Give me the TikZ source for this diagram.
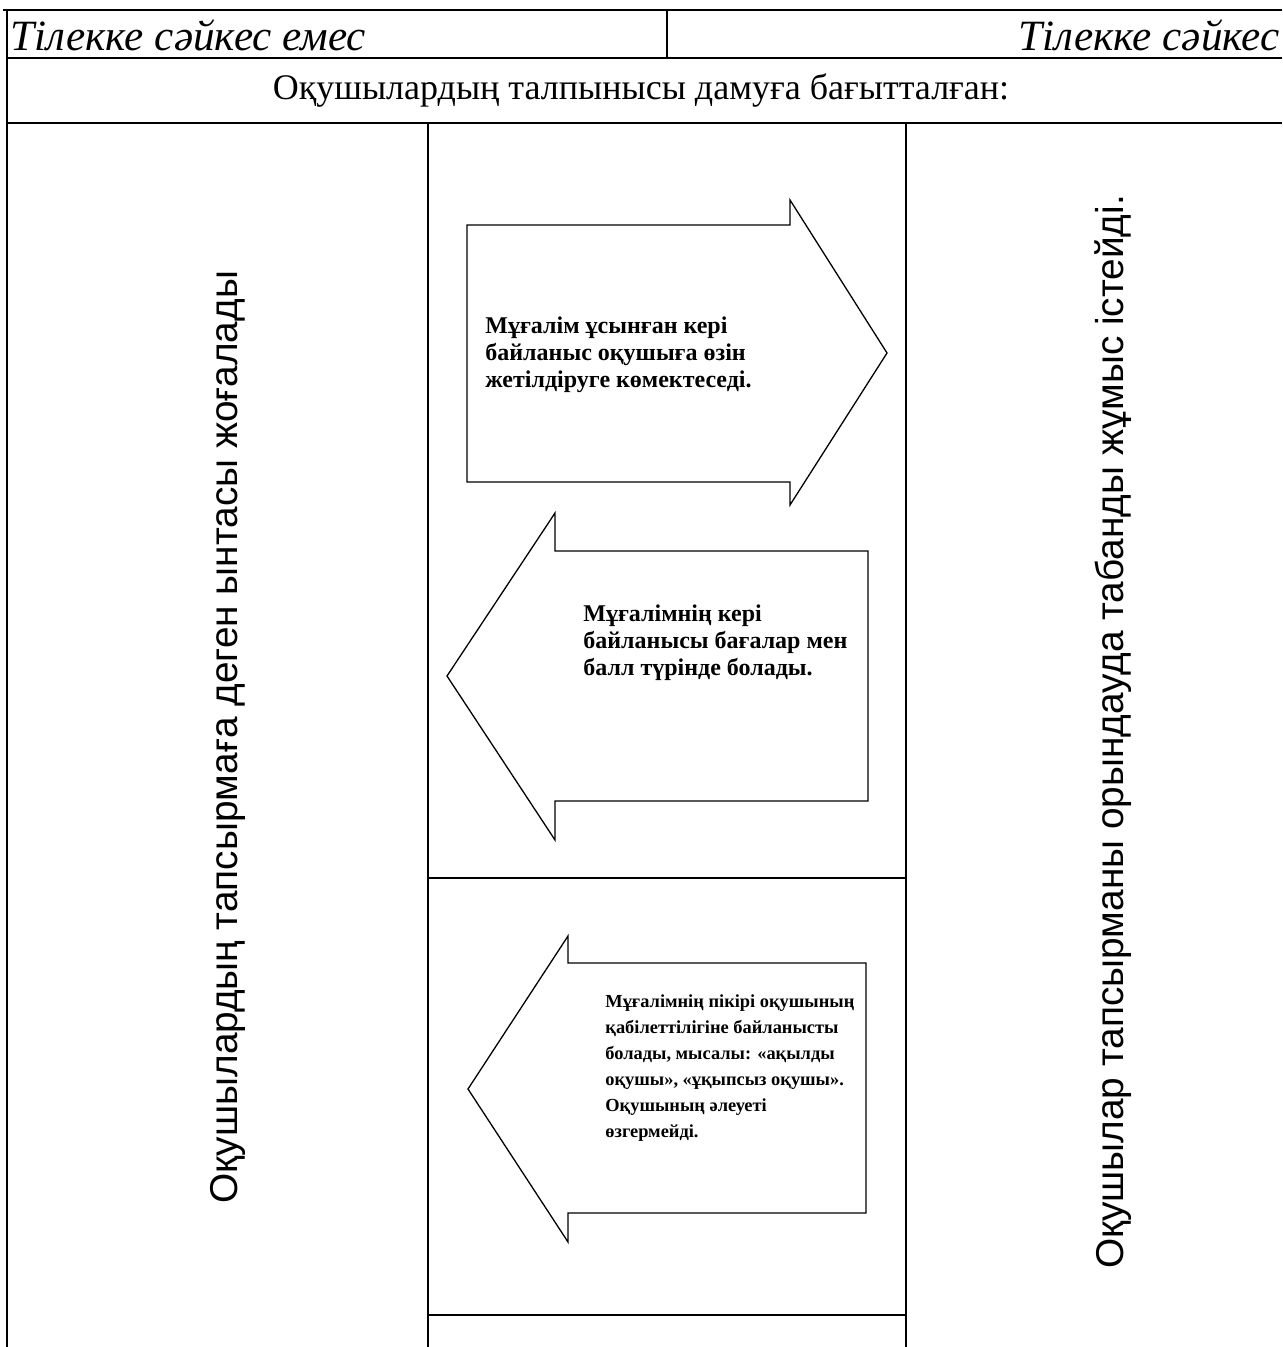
\documentclass[tikz,border=0pt]{standalone}
\usepackage{fontspec}
\setmainfont{Liberation Serif}
\newfontfamily\sidefont{Liberation Sans}
\tikzset{
	cellline/.style={line width=1pt, draw=black},
	blockarrow/.style={draw=black, line width=0.65pt, fill=white, line join=miter},
	notetext/.style={align=left, anchor=west, inner sep=0pt, font=\bfseries\fontsize{12}{13.6}\selectfont},
	smallnote/.style={align=left, anchor=west, inner sep=0pt, font=\bfseries\fontsize{9.2}{13}\selectfont},
	headtext/.style={inner sep=0pt, font=\itshape\fontsize{21.6}{26}\selectfont},
	rowtext/.style={inner sep=0pt, font=\fontsize{18}{22}\selectfont},
	sidetext/.style={rotate=90, inner sep=0pt, font=\sidefont\fontsize{19.4}{23}\selectfont},
}

\begin{document}
\begin{tikzpicture}[x=0.5pt, y=-0.5pt]
	\useasboundingbox (0,0) rectangle (1282,1347);
	% table grid
	\draw[cellline] (3,10) -- (1282,10);
	\draw[cellline] (7,10) -- (7,1347);
	\draw[cellline] (667,10) -- (667,58);
	\draw[cellline] (7,58) -- (1282,58);
	\draw[cellline] (7,123) -- (1282,123);
	\draw[cellline] (428,123) -- (428,1347);
	\draw[cellline] (906,123) -- (906,1347);
	\draw[cellline] (428,878) -- (906,878);
	\draw[cellline] (428,1315) -- (906,1315);
	% header
	\node[headtext, anchor=west] (notmatch) at (10,35) {Тілекке сәйкес емес};
	\node[headtext, anchor=east] (match) at (1280,35) {Тілекке сәйкес};
	\node[rowtext] (aim) at (641,91) {Оқушылардың талпынысы дамуға бағытталған:};
	% side columns
	\node[sidetext] (lost) at (228,737) {Оқушылардың тапсырмаға деген ынтасы жоғалады};
	\node[sidetext] (steady) at (1113,732) {Оқушылар тапсырманы орындауда табанды жұмыс істейді.};
	% block arrows
	\draw[blockarrow] (467,225) -- (790,225) -- (790,200) -- (887,353) -- (790,505) -- (790,482) -- (467,482) -- cycle;
	\node[notetext] (help) at (485,355) {Мұғалім ұсынған кері\\байланыс оқушыға өзін\\жетілдіруге көмектеседі.};
	\draw[blockarrow] (868,551) -- (555,551) -- (555,513) -- (447,676) -- (555,840) -- (555,801) -- (868,801) -- cycle;
	\node[notetext] (marks) at (583,643) {Мұғалімнің кері\\байланысы бағалар мен\\балл түрінде болады.};
	\draw[blockarrow] (866,963) -- (568,963) -- (568,936) -- (468,1089) -- (568,1242) -- (568,1213) -- (866,1213) -- cycle;
	\node[smallnote] (ability) at (605,1068) {Мұғалімнің пікірі оқушының\\қабілеттілігіне байланысты\\болады, мысалы: «ақылды\\оқушы», «ұқыпсыз оқушы».\\Оқушының әлеуеті\\өзгермейді.};
\end{tikzpicture}
\end{document}
